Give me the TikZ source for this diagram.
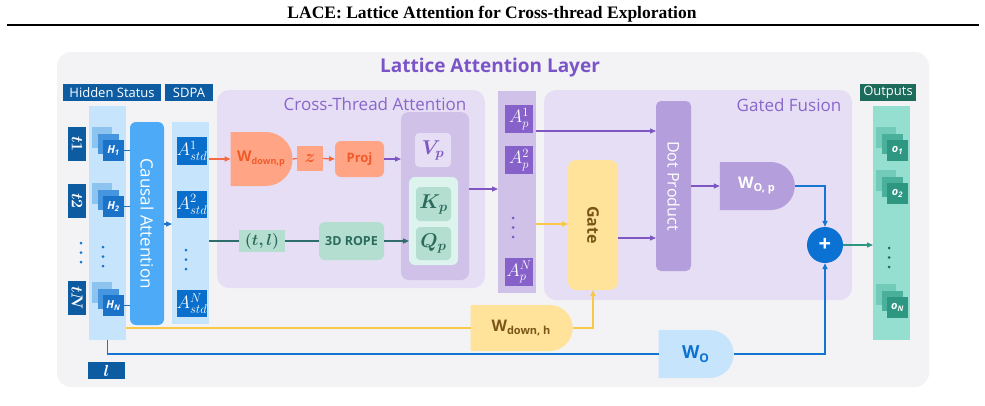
\RequirePackage{fix-cm}
\documentclass[tikz,border=0pt]{standalone}
\usepackage{amsmath,bm}
\usepackage{fontspec}
\setmainfont{Liberation Serif}
\newfontfamily\uisans{Open Sans}
\usetikzlibrary{arrows.meta,shapes.misc}
\definecolor{panel}{HTML}{F3F3F6}
\definecolor{dkblue}{HTML}{0D5BA1}
\definecolor{ltblue}{HTML}{C6E4FB}
\definecolor{hlight}{HTML}{8DC3EF}
\definecolor{hmid}{HTML}{4596DF}
\definecolor{hfront}{HTML}{1A72C9}
\definecolor{causal}{HTML}{4DAAF6}
\definecolor{astd}{HTML}{0A6FCC}
\definecolor{region}{HTML}{E6DEF4}
\definecolor{inner}{HTML}{CFC1E8}
\definecolor{mint}{HTML}{DDF4EE}
\definecolor{kq}{HTML}{B4DED0}
\definecolor{dkgreen}{HTML}{2B6B5C}
\definecolor{orfill}{HTML}{FFA586}
\definecolor{ortext}{HTML}{F15A29}
\definecolor{orline}{HTML}{F26B45}
\definecolor{teal}{HTML}{2F6E6B}
\definecolor{apbox}{HTML}{8661C9}
\definecolor{purp}{HTML}{7E57C2}
\definecolor{dotp}{HTML}{B49EDC}
\definecolor{gate}{HTML}{FFE39B}
\definecolor{brown}{HTML}{7A5718}
\definecolor{yline}{HTML}{F8C846}
\definecolor{bline}{HTML}{1476D2}
\definecolor{plusc}{HTML}{0B72D4}
\definecolor{outh}{HTML}{1D6B5B}
\definecolor{outcol}{HTML}{95DFD0}
\definecolor{olight}{HTML}{72CBB9}
\definecolor{omid}{HTML}{4BB09B}
\definecolor{ofront}{HTML}{2E9782}
\definecolor{ttl}{HTML}{7B55C8}
\definecolor{rtitle}{HTML}{8A66CC}
\newcommand\bx[7]{\node[#6,inner sep=0pt,outer sep=0pt,minimum width={#4-(#2)},minimum height={#5-(#3)}] (#1) at ({(#2+#4)/2},{(#3+#5)/2}) {#7};}
\newcommand\stk[7]{%
  \fill[#4] (#2-11,#3-13) rectangle ++(20,21);
  \fill[#5] (#2-5,#3-6) rectangle ++(21,20);
  \bx{#1}{#2}{#3}{#2+21}{#3+21}{fill=#6,text=white,font=\uisans\fontsize{11}{11}\selectfont\bfseries\itshape}{#7}}
\newcommand\threedots[4]{%
  \fill[#1] (#2,#3) circle (1.5pt) (#2,#3+9.5) circle (1.5pt) (#2,#3+19) circle (1.5pt);}
\begin{document}
\begin{tikzpicture}[x=1pt,y=-1pt,font=\uisans,
  arr/.style={-{Triangle[length=6pt,width=5pt]},line width=1.3pt},
  ln/.style={line width=1.3pt},
  hdr/.style={fill=dkblue,text=white,font=\uisans\fontsize{13}{13}\selectfont},
  rtl/.style={text=rtitle,font=\uisans\fontsize{17}{17}\selectfont},
  abx/.style={fill=astd,text=white,font=\fontsize{18}{18}\selectfont},
  pbx/.style={fill=apbox,text=white,font=\fontsize{18}{18}\selectfont},
  dshape/.style={rounded rectangle,rounded rectangle west arc=none}]
\useasboundingbox (0,0) rectangle (985,405);
\fill[white] (0,0) rectangle (985,405);
\node[font=\rmfamily\bfseries\fontsize{17.5}{17.5}\selectfont] (title) at (492,14) {LACE: Lattice Attention for Cross-thread Exploration};
\draw[line width=1.6pt] (7,25) -- (979,25);
\fill[panel,rounded corners=14pt] (57,52) rectangle (929,387);
\node[text=ttl,font=\uisans\bfseries\fontsize{19}{19}\selectfont] (layer) at (490,68) {Lattice Attention Layer};
% headers
\bx{hs}{63}{84}{161}{101}{hdr}{Hidden Status}
\bx{sdpa}{165}{84}{213}{101}{hdr}{SDPA}
\bx{outhd}{860}{84}{916}{101}{hdr,fill=outh}{Outputs}
% hidden column
\bx{hcol}{89}{106}{126}{340}{fill=ltblue}{}
\bx{t1}{68}{127}{86}{161}{fill=dkblue}{}
\bx{t2}{68}{184}{86}{218}{fill=dkblue}{}
\bx{tn}{68}{281}{86}{315}{fill=dkblue}{}
\foreach \n/\s in {t1/t1,t2/t2,tn/tN}{\node[rotate=-90,text=white,font=\fontsize{16}{16}\selectfont] at (\n) {$\bm{\s}$};}
\threedots{bline}{81}{243}{}
\threedots{bline}{103}{247}{}
\stk{h1}{103}{140}{hlight}{hmid}{hfront}{H\textsubscript{1}}
\stk{h2}{103}{196}{hlight}{hmid}{hfront}{H\textsubscript{2}}
\stk{hn}{103}{295}{hlight}{hmid}{hfront}{H\textsubscript{N}}
\bx{lbox}{88}{362}{125}{379}{fill=dkblue,text=white,font=\fontsize{16}{16}\selectfont}{$\bm{l}$}
% causal
\bx{causal}{130}{122}{164}{325}{fill=causal,rounded corners=6pt}{}
\node[rotate=-90,text=white,font=\uisans\fontsize{17}{17}\selectfont] at (causal) {Causal Attention};
\foreach \h in {h1,h2,hn}{\draw[ln,hfront] (\h.east) -- (\h.east -| causal.west);}
% sdpa column
\bx{scol}{172}{122}{209}{324}{fill=ltblue}{}
\draw[arr,hfront] (causal.east |- 0,224) -- (scol.west |- 0,224);
\bx{a1}{178}{137}{206}{165}{abx}{$A^{1}_{std}$}
\bx{a2}{178}{191}{206}{218}{abx}{$A^{2}_{std}$}
\bx{an}{178}{290}{206}{317}{abx}{$A^{N}_{std}$}
\threedots{bline}{186}{250}{}
% cross-thread region
\fill[region,rounded corners=12pt] (217,90) rectangle (485,288);
\node[rtl] (ctt) at (375,104) {Cross-Thread Attention};
\bx{wdp}{230}{132}{292}{186}{dshape,fill=orfill,text=ortext,font=\uisans\bfseries\fontsize{15}{15}\selectfont}{W\raisebox{-0.35ex}{\fontsize{9}{9}\selectfont down,p}}
\bx{z}{297}{146}{323}{171}{fill=orfill,text=ortext,font=\fontsize{18}{18}\selectfont}{$\bm{z}$}
\bx{proj}{335}{141}{384}{177}{fill=orfill,rounded corners=6pt,text=ortext,font=\uisans\bfseries\fontsize{13}{13}\selectfont}{Proj}
\bx{inner}{401}{112}{469}{280}{fill=inner,rounded corners=8pt}{}
\bx{vp}{415}{133}{451}{167}{fill=region,rounded corners=4pt,text=purp,font=\fontsize{20}{20}\selectfont}{$\bm{V_p}$}
\bx{kqc}{409}{177}{458}{265}{fill=mint,rounded corners=6pt}{}
\bx{kp}{416}{187}{451}{221}{fill=kq,rounded corners=4pt,text=dkgreen,font=\fontsize{20}{20}\selectfont}{$\bm{K_p}$}
\bx{qp}{416}{227}{451}{260}{fill=kq,rounded corners=4pt,text=dkgreen,font=\fontsize{20}{20}\selectfont}{$\bm{Q_p}$}
\bx{tl}{239}{230}{285}{252}{fill=kq,text=dkgreen,font=\fontsize{16}{16}\selectfont}{$\bm{(t,l)}$}
\bx{rope}{319}{222}{384}{260}{fill=kq,rounded corners=6pt,text=dkgreen,font=\uisans\bfseries\fontsize{12.5}{12.5}\selectfont}{3D ROPE}
\draw[arr,orline] (scol.east |- wdp.west) -- (wdp.west);
\draw[ln,orline] (wdp.east) -- (z.west);
\draw[arr,orline] (z.east) -- (proj.west);
\draw[arr,purp] (proj.east) -- (proj.east -| inner.west);
\draw[ln,teal] (scol.east |- tl.west) -- (tl.west);
\draw[ln,teal] (tl.east) -- (rope.west);
\draw[arr,teal] (rope.east) -- (rope.east -| kqc.west);
% A_p column
\bx{apcol}{498}{91}{536}{293}{fill=inner}{}
\draw[arr,purp] (inner.east |- 0,189) -- (apcol.west |- 0,189);
\bx{ap1}{505}{105}{533}{133}{pbx}{$A^{1}_{p}$}
\bx{ap2}{505}{146}{533}{174}{pbx}{$A^{2}_{p}$}
\bx{apn}{505}{258}{533}{286}{pbx}{$A^{N}_{p}$}
\threedots{purp}{513}{218}{}
% gated fusion
\fill[region,rounded corners=12pt] (544,90) rectangle (852,300);
\node[rtl] (gft) at (789,105) {Gated Fusion};
\bx{dot}{656}{101}{691}{271}{fill=dotp,rounded corners=5pt}{}
\node[rotate=-90,text=white,font=\uisans\fontsize{16}{16}\selectfont] at (dot) {Dot Product};
\bx{gate}{568}{160}{618}{290}{fill=gate,rounded corners=8pt}{}
\node[rotate=-90,text=brown,font=\uisans\bfseries\fontsize{16}{16}\selectfont] at (gate) {Gate};
\bx{wop}{719}{162}{794}{210}{dshape,fill=dotp,text=white,font=\uisans\bfseries\fontsize{16}{16}\selectfont}{W\raisebox{-0.35ex}{\fontsize{11}{11}\selectfont O, p}}
\node[circle,fill=plusc,minimum size=36pt,inner sep=0pt,text=white,font=\uisans\bfseries\fontsize{22}{22}\selectfont] (plus) at (825,245) {+};
\draw[arr,purp] (apcol.east |- 0,131) -- (dot.west |- 0,131);
\draw[arr,line width=1.6pt,yline] (apcol.east |- 0,224) -- (gate.west |- 0,224);
\draw[arr,purp] (gate.east |- 0,238) -- (dot.west |- 0,238);
\draw[arr,purp] (dot.east |- wop.west) -- (wop.west);
\draw[arr,bline] (wop.east) -| (plus.north);
% outputs
\bx{ocol}{873}{106}{910}{340}{fill=outcol}{}
\draw[arr,ofront] (plus.east) -- (plus.east -| ocol.west);
\stk{o1}{887}{140}{olight}{omid}{ofront}{o\textsubscript{1}}
\stk{o2}{887}{183}{olight}{omid}{ofront}{o\textsubscript{2}}
\stk{on}{887}{297}{olight}{omid}{ofront}{o\textsubscript{N}}
\threedots{outh}{889}{248}{}
% bottom
\bx{wdh}{470}{305}{572}{351}{dshape,fill=gate,text=brown,font=\uisans\bfseries\fontsize{16}{16}\selectfont}{W\raisebox{-0.35ex}{\fontsize{11}{11}\selectfont down, h}}
\bx{wo}{658}{330}{733}{378}{dshape,fill=ltblue,text=plusc,font=\uisans\bfseries\fontsize{18}{18}\selectfont}{W\raisebox{-0.35ex}{\fontsize{12}{12}\selectfont O}}
\draw[line width=2pt,yline] (hcol.east |- wdh.west) -- (wdh.west);
\draw[-{Triangle[length=6pt,width=5pt]},line width=2pt,yline] (wdh.east) -| (gate.south);
\draw[ln,bline] (hcol.south) |- (wo.west);
\draw[arr,bline] (wo.east) -| (plus.south);
\end{tikzpicture}
\end{document}
